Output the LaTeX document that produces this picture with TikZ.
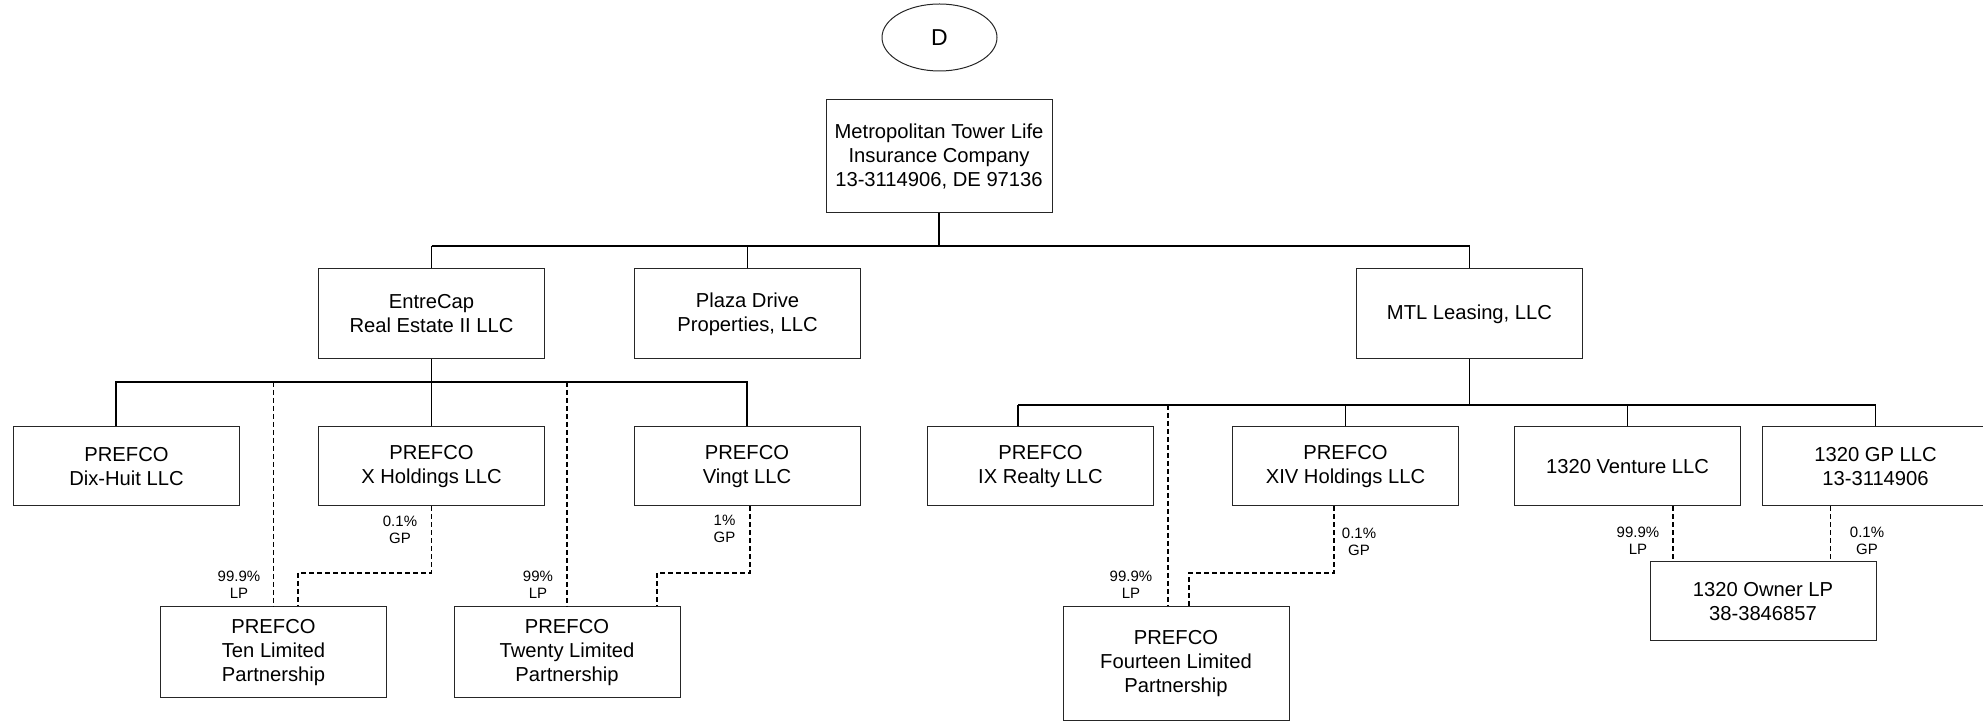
\documentclass[tikz,border=0pt]{standalone}
\usepackage{fontspec}
\setmainfont{Liberation Sans}
\usetikzlibrary{calc, shapes.geometric}

\begin{document}
\begin{tikzpicture}[x=0.5pt, y=-0.5pt]
			\tikzstyle{entity} = [draw=black!85, line width=0.5pt, rectangle, align=center, minimum width=113pt, inner sep=2pt, font=\fontsize{10.1}{12}\selectfont]
			\tikzstyle{pct} = [align=center, inner sep=0pt, font=\fontsize{7.5}{8.5}\selectfont]
			\tikzstyle{bus} = [line width=0.9pt]
			\tikzstyle{link} = [line width=0.6pt]
			\tikzstyle{own} = [line width=0.65pt, dash pattern=on 2.5pt off 1.5pt]
			
			\useasboundingbox (0, 0) rectangle (1983, 721);
			
			\node[draw=black!85, line width=0.5pt, ellipse, minimum width=57.5pt, minimum height=33.5pt, inner sep=0pt, font=\fontsize{11.5}{13}\selectfont] at (939.5, 37.5) (tag) {D};
			
			\node[entity, minimum height=56.5pt] 	at (939, 156) 		(metro) 	{Metropolitan Tower Life\\Insurance Company\\13-3114906, DE 97136};
			
			\node[entity, minimum height=45pt] 	at (431.5, 314) 	(entre) 	{EntreCap\\Real Estate II LLC};
			\node[entity, minimum height=45pt] 	at (747.5, 314) 	(plaza) 	{Plaza Drive\\Properties, LLC};
			\node[entity, minimum height=45pt] 	at (1469.5, 314) 	(mtl) 		{MTL Leasing, LLC};
			
			\node[entity, minimum height=39.5pt] 	at (126.5, 466.5) 	(dix) 		{PREFCO\\Dix-Huit LLC};
			\node[entity, minimum height=39.5pt] 	at (431.5, 466.5) 	(xhold) 	{PREFCO\\X Holdings LLC};
			\node[entity, minimum height=39.5pt] 	at (747, 466.5) 	(vingt) 	{PREFCO\\Vingt LLC};
			\node[entity, minimum height=39.5pt] 	at (1040.5, 466.5) 	(ixr) 		{PREFCO\\IX Realty LLC};
			\node[entity, minimum height=39.5pt] 	at (1345.5, 466.5) 	(xiv) 		{PREFCO\\XIV Holdings LLC};
			\node[entity, minimum height=39.5pt] 	at (1627.5, 466.5) 	(venture) 	{1320 Venture LLC};
			\node[entity, minimum height=39.5pt] 	at (1875.5, 466.5) 	(gp) 		{1320 GP LLC\\13-3114906};
			
			\node[entity, minimum height=45.5pt] 	at (273.5, 652.5) 	(ten) 		{PREFCO\\Ten Limited\\Partnership};
			\node[entity, minimum height=45.5pt] 	at (567, 652.5) 	(twenty) 	{PREFCO\\Twenty Limited\\Partnership};
			\node[entity, minimum height=56.5pt] 	at (1176, 663.5) 	(fourteen) 	{PREFCO\\Fourteen Limited\\Partnership};
			\node[entity, minimum height=39.5pt] 	at (1763, 601.5) 	(owner) 	{1320 Owner LP\\38-3846857};
			
			% bus levels
			\coordinate (top) at (939, 246);
			\coordinate (ebus) at (435, 382);
			\coordinate (mbus) at (1469.5, 405);
			\coordinate (jog) at (0, 573);
			
			% top level
			\draw[link] (metro.south) -- (top);
			\draw[bus] (entre.north |- top) -- (mtl.north |- top);
			\draw[line width=1.3pt] ($(top)+(26,0)$) -- ($(top)+(83,0)$);
			\draw[bus] (entre.north |- top) -- (entre.north);
			\draw[link] (plaza.north |- top) -- (plaza.north);
			\draw[link] (mtl.north |- top) -- (mtl.north);
			
			% EntreCap
			\draw[bus] (entre.south) -- (xhold.north);
			\draw[bus] ($(dix.north)+(-10.5,0)$) |- (vingt.north |- ebus) -- (vingt.north);
			
			% MTL Leasing
			\draw[link] (mtl.south) -- (mbus);
			\draw[bus] ($(ixr.north |- mbus)+(-22.5,0)$) -- (gp.north |- mbus);
			\draw[bus] ($(ixr.north |- mbus)+(-22.5,0)$) -- ($(ixr.north)+(-22.5,0)$);
			\draw[link] (xiv.north |- mbus) -- (xiv.north);
			\draw[link] (venture.north |- mbus) -- (venture.north);
			\draw[bus] (gp.north |- mbus) -- (gp.north);
			
			% partnership interests
			\draw[own] (ten.north |- ebus) -- (ten.north);
			\draw[own] (xhold.south) -- (xhold.south |- jog) -| ($(ten.north)+(24.5,0)$);
			\draw[own] (twenty.north |- ebus) -- (twenty.north);
			\draw[own] ($(vingt.south)+(3,0)$) -- ($(vingt.south |- jog)+(3,0)$) -| ($(twenty.north)+(90,0)$);
			\draw[own] ($(fourteen.north |- mbus)+(-8,0)$) -- ($(fourteen.north)+(-8,0)$);
			\draw[own] ($(xiv.south)+(-11.5,0)$) -- ($(xiv.south |- jog)+(-11.5,0)$) -| ($(fourteen.north)+(13,0)$);
			\draw[own] ($(venture.south)+(45.5,0)$) -- ($(owner.north)+(-90,0)$);
			\draw[own] ($(gp.south)+(-45,0)$) -- ($(owner.north)+(67.5,0)$);
			
			\node[pct] at (400, 529.5) 	(xgp) 	{0.1\%\\GP};
			\node[pct] at (239, 585) 	(tenlp) 	{99.9\%\\LP};
			\node[pct] at (538, 585) 	(twlp) 	{99\%\\LP};
			\node[pct] at (724.5, 528.5) 	(vgp) 	{1\%\\GP};
			\node[pct] at (1131, 585) 	(ftlp) 	{99.9\%\\LP};
			\node[pct] at (1359, 541.5) 	(xivgp) 	{0.1\%\\GP};
			\node[pct] at (1638, 540.5) 	(owlp) 	{99.9\%\\LP};
			\node[pct] at (1867, 540.5) 	(owgp) 	{0.1\%\\GP};
\end{tikzpicture}
\end{document}
